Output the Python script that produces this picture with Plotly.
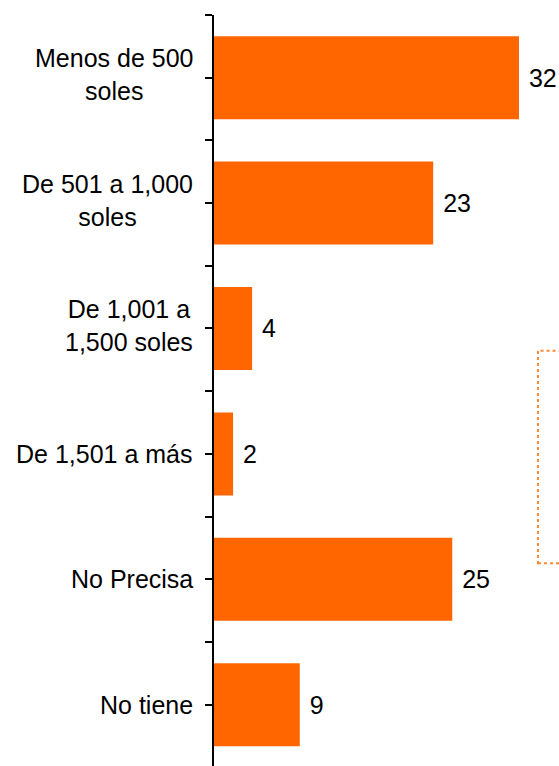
import plotly.graph_objects as go

categories = [
    "Menos de 500<br>soles",
    "De 501 a 1,000<br>soles",
    "De 1,001 a<br>1,500 soles",
    "De 1,501 a más",
    "No Precisa",
    "No tiene",
]
values = [32, 23, 4, 2, 25, 9]

positions = list(range(len(categories)))
bounds = [p - 0.5 for p in positions] + [len(categories) - 0.5]

fig = go.Figure()
fig.add_trace(
    go.Bar(
        x=values,
        y=positions,
        orientation="h",
        marker=dict(color="#FF6600", line=dict(width=0)),
        text=[" " + str(v) for v in values],
        textposition="outside",
        textfont=dict(family="Liberation Sans", size=25, color="black"),
        cliponaxis=False,
        width=0.662,
        hoverinfo="skip",
    )
)

# category labels, centred per line like the original
for pos, label in zip(positions, categories):
    fig.add_annotation(
        x=0,
        xref="paper",
        y=pos,
        yref="y",
        text=label,
        showarrow=False,
        xanchor="right",
        yanchor="middle",
        align="center",
        xshift=-19,
        yshift=3 if "<br>" in label else 0,
        font=dict(family="Liberation Sans", size=25, color="black"),
    )

# bottom of the last slot falls just off the page, as in the original
yrange = [5.489, -0.5]

fig.update_layout(
    width=559,
    height=766,
    plot_bgcolor="white",
    paper_bgcolor="white",
    showlegend=False,
    margin=dict(l=214, r=0, t=15, b=0),
    font=dict(family="Liberation Sans", size=25, color="black"),
    xaxis=dict(range=[0, 36.2], visible=False),
    yaxis=dict(
        range=yrange,
        tickmode="array",
        tickvals=positions,
        showticklabels=False,
        ticks="outside",
        ticklen=7,
        tickwidth=2,
        tickcolor="black",
        showline=True,
        linecolor="black",
        linewidth=2,
        showgrid=False,
        zeroline=False,
        minor=dict(
            tickmode="array",
            tickvals=bounds,
            ticks="outside",
            ticklen=7,
            tickwidth=2,
            tickcolor="black",
            showgrid=False,
        ),
    ),
    yaxis2=dict(
        range=yrange,
        overlaying="y",
        anchor="x",
        side="left",
        tickmode="array",
        tickvals=positions,
        ticks="inside",
        ticklen=7,
        tickwidth=2,
        tickcolor="black",
        showticklabels=False,
        showgrid=False,
        zeroline=False,
    ),
)

# dotted box at the right edge
fig.add_shape(
    type="rect",
    xref="paper",
    yref="paper",
    x0=0.939,
    x1=1.1,
    y0=0.27,
    y1=0.553,
    line=dict(color="#FF8833", width=2, dash="dot"),
)

fig.write_html(
    "out.html",
    config={"displayModeBar": False},
    post_script="document.body.style.margin='0';document.body.style.overflow='hidden';",
)
